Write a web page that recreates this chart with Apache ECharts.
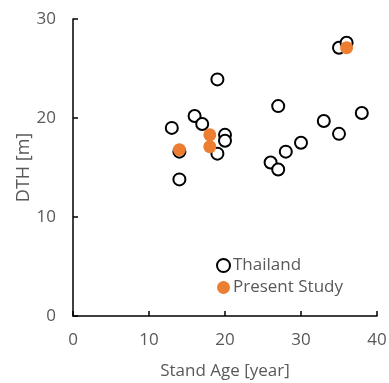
<!DOCTYPE html>
<html>
<head>
<meta charset="utf-8">
<script src="https://cdn.jsdelivr.net/npm/echarts@6/dist/echarts.min.js"></script>
<style>html,body{margin:0;padding:0;background:#fff}#c{width:389px;height:383px}</style>
</head>
<body>
<div id="c"></div>
<script>
var thailandAge = [13, 14, 14, 16, 17, 19, 20, 20, 19, 26, 27, 27, 28, 30, 33, 35, 38, 35, 36];
var thailandDTH = [19.0, 16.6, 13.8, 20.2, 19.4, 23.9, 18.3, 17.7, 16.4, 15.5, 14.8, 21.2, 16.6, 17.5, 19.7, 18.4, 20.5, 27.1, 27.6];
var presentAge = [14, 18, 18, 36];
var presentDTH = [16.8, 18.3, 17.1, 27.1];
var xTicks = [0, 10, 20, 30, 40];
var yTicks = [0, 10, 20, 30];

function pairs(a, b) { return a.map(function (v, i) { return [v, b[i]]; }); }

var font = "Open Sans";
var chart = echarts.init(document.getElementById('c'));
chart.setOption({
  animation: false,
  grid: { left: 73, right: 12, top: 19, bottom: 67, containLabel: false, outerBoundsMode: 'none' },
  legend: {
    left: 211, top: 252, orient: 'vertical', itemGap: 5,
    itemWidth: 13, itemHeight: 13,
    textStyle: { color: '#595959', fontSize: 17, fontFamily: font, padding: [0, 0, 0, -2] },
    data: ['Thailand', 'Present Study']
  },
  xAxis: {
    type: 'value', min: 0, max: 40, interval: 10,
    name: 'Stand Age [year]', nameLocation: 'middle', nameGap: 47,
    nameTextStyle: { color: '#595959', fontSize: 17, fontFamily: font },
    axisLine: { show: true, lineStyle: { color: '#000', width: 1.5 } },
    axisTick: { show: true, inside: true, length: 5, lineStyle: { color: '#000', width: 1.5 } },
    axisLabel: { color: '#595959', fontSize: 17, fontFamily: font, margin: 16 },
    splitLine: { show: false }
  },
  yAxis: {
    type: 'value', min: 0, max: 30, interval: 10,
    name: 'DTH [m]', nameLocation: 'middle', nameGap: 40, nameMoveOverlap: false,
    nameTextStyle: { color: '#595959', fontSize: 18, fontFamily: font },
    axisLine: { show: true, lineStyle: { color: '#000', width: 1.5 } },
    axisTick: { show: true, inside: true, length: 5, lineStyle: { color: '#000', width: 1.5 } },
    axisLabel: { color: '#595959', fontSize: 17, fontFamily: font, margin: 17 },
    splitLine: { show: false }
  },
  series: [
    {
      name: 'Thailand', type: 'scatter', symbol: 'circle', symbolSize: 12,
      itemStyle: { color: '#fff', borderColor: '#000', borderWidth: 2, opacity: 1 },
      data: pairs(thailandAge, thailandDTH)
    },
    {
      name: 'Present Study', type: 'scatter', symbol: 'circle', symbolSize: 13,
      itemStyle: { color: '#ED7D31', opacity: 1 },
      data: pairs(presentAge, presentDTH)
    }
  ]
});
</script>
</body>
</html>
